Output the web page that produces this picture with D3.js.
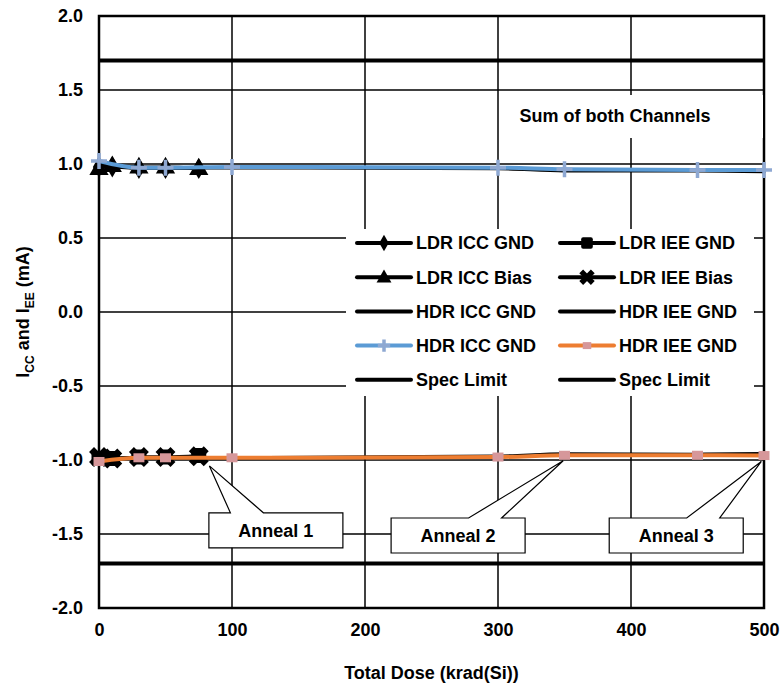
<!DOCTYPE html>
<html><head><meta charset="utf-8">
<script src="https://cdn.jsdelivr.net/npm/d3@7"></script>
<style>
body{margin:0;background:#fff}
text{font-family:"Liberation Sans",Arial,sans-serif;font-weight:bold;fill:#000}
</style>
</head><body>
<svg id="c" width="780" height="688"></svg>
<script>
// ---- data ----
const xTicks = [0, 100, 200, 300, 400, 500];
const yTicks = [2.0, 1.5, 1.0, 0.5, 0.0, -0.5, -1.0, -1.5, -2.0];

const ldrDose    = [0, 10, 30, 50, 75];
const ldrIccGnd  = [0.98, 0.98, 0.97, 0.97, 0.97];
const ldrIccBias = [0.97, 0.99, 0.98, 0.98, 0.97];
const ldrIeeGnd  = [-0.99, -0.99, -0.98, -0.98, -0.97];
const ldrIeeBias = [-0.98, -0.99, -0.98, -0.98, -0.975];

const hdrDose        = [0, 30, 50, 100, 300, 350, 450, 500];
const hdrIccGndBlack = [1.0, 0.975, 0.975, 0.975, 0.97, 0.955, 0.955, 0.95];
const hdrIccGndBlue  = [1.02, 0.975, 0.975, 0.98, 0.975, 0.965, 0.96, 0.96];
const hdrIeeGndBlack = [-1.0, -0.985, -0.985, -0.985, -0.975, -0.96, -0.962, -0.958];
const hdrIeeGndOrange= [-1.01, -0.985, -0.985, -0.985, -0.98, -0.968, -0.968, -0.97];

const specDose = [0, 500];
const specHigh = [1.7, 1.7];
const specLow  = [-1.7, -1.7];

const annLabels  = ["Anneal 1", "Anneal 2", "Anneal 3"];
const annTipDose = [83, 349, 498];
const annTipVal  = [-1.04, -1.005, -1.01];
const annBoxDose = [133, 270, 434];
const annBoxVal  = [-1.475, -1.51, -1.51];

const noteText = "Sum of both Channels";

// ---- layout ----
const svg = d3.select("#c");
const x = d3.scaleLinear().domain([0, 500]).range([99, 764]);
const y = d3.scaleLinear().domain([-2, 2]).range([608, 16]);

const BLUE = "#5B9BD5", BLUE_M = "#8EA8D2", ORANGE = "#ED7D31", PINK = "#D6979A";

// grid
const g = svg.append("g");
g.selectAll(".vg").data(xTicks.slice(1, -1)).join("line")
  .attr("x1", d => x(d)).attr("x2", d => x(d))
  .attr("y1", y(2)).attr("y2", y(-2))
  .attr("stroke", "#000").attr("stroke-width", 1.5);
g.selectAll(".hg").data(yTicks.slice(1, -1)).join("line")
  .attr("x1", x(0)).attr("x2", x(500))
  .attr("y1", d => y(d)).attr("y2", d => y(d))
  .attr("stroke", "#000").attr("stroke-width", 1.5);

// axes
const fmt = d => d.toFixed(1);
const ya = svg.append("g").attr("transform", `translate(${x(0)},0)`)
  .call(d3.axisLeft(y).tickValues(yTicks).tickFormat(fmt).tickSize(0).tickPadding(16));
ya.select(".domain").remove();
ya.selectAll("text").attr("font-size", 18).style("font-family", "Liberation Sans, Arial, sans-serif").style("font-weight", "bold");
const xa = svg.append("g").attr("transform", `translate(0,${y(-2)})`)
  .call(d3.axisBottom(x).tickValues(xTicks).tickFormat(d3.format("d")).tickSize(0).tickPadding(15));
xa.select(".domain").remove();
xa.selectAll("text").attr("font-size", 18).style("font-family", "Liberation Sans, Arial, sans-serif").style("font-weight", "bold");

// frame
svg.append("rect").attr("x", x(0)).attr("y", y(2))
  .attr("width", x(500) - x(0)).attr("height", y(-2) - y(2))
  .attr("fill", "none").attr("stroke", "#000").attr("stroke-width", 2.5);

// spec limits
const line = d3.line().x(d => x(d[0])).y(d => y(d[1]));
const zip = (a, b) => a.map((v, i) => [v, b[i]]);
[specHigh, specLow].forEach(s => {
  svg.append("path").attr("d", line(zip(specDose, s)))
    .attr("fill", "none").attr("stroke", "#000").attr("stroke-width", 4);
});

// symbol helpers
function marker(sel, type, cx, cy, scale) {
  scale = scale || 1;
  const k = Math.sqrt(scale);
  const gg = sel.append("g").attr("transform", `translate(${cx},${cy})`);
  if (type === "diamond") {
    gg.append("path").attr("d", d3.symbol(d3.symbolDiamond, 130 * scale)()).attr("fill", "#000");
  } else if (type === "triangle") {
    gg.append("path").attr("d", d3.symbol(d3.symbolTriangle, 160 * scale)()).attr("fill", "#000").attr("transform", "translate(0,1)");
  } else if (type === "square") {
    gg.append("rect").attr("x", -7.5 * k).attr("y", -7.5 * k)
      .attr("width", 15 * k).attr("height", 15 * k).attr("rx", 2.5 * k).attr("fill", "#000");
  } else if (type === "x") {
    const r = 5 * k;
    gg.append("path").attr("d", `M${-r},${-r}L${r},${r}M${-r},${r}L${r},${-r}`).attr("fill", "none")
      .attr("stroke", "#000").attr("stroke-width", 7 * k).attr("stroke-linecap", "square");
  } else if (type === "plus") {
    const r = 8 * k;
    gg.append("path").attr("d", `M${-r},0H${r}M0,${-r}V${r}`).attr("stroke", BLUE_M).attr("stroke-width", 3.5);
  } else if (type === "pink") {
    const w = 11 * k, h = 9 * k;
    gg.append("rect").attr("x", -w / 2).attr("y", -h / 2).attr("width", w).attr("height", h).attr("fill", PINK);
  }
}

const series = [
  {dose: ldrDose, vals: ldrIccGnd,  color: "#000", w: 3, m: "diamond"},
  {dose: ldrDose, vals: ldrIccBias, color: "#000", w: 3, m: "triangle"},
  {dose: hdrDose, vals: hdrIccGndBlack, color: "#000", w: 3.5, m: null},
  {dose: ldrDose, vals: ldrIeeBias, color: "#000", w: 3, m: "x"},
  {dose: ldrDose, vals: ldrIeeGnd,  color: "#000", w: 3, m: "square"},
  {dose: hdrDose, vals: hdrIeeGndBlack, color: "#000", w: 3.5, m: null},
  {dose: hdrDose, vals: hdrIccGndBlue, color: BLUE, w: 4, m: "plus"},
  {dose: hdrDose, vals: hdrIeeGndOrange, color: ORANGE, w: 4, m: "pink"}
];
const curve = d3.line().x(d => x(d[0])).y(d => y(d[1])).curve(d3.curveMonotoneX);
series.forEach(s => {
  const pts = zip(s.dose, s.vals);
  svg.append("path").attr("d", curve(pts)).attr("fill", "none")
    .attr("stroke", s.color).attr("stroke-width", s.w).attr("stroke-linejoin", "round").attr("stroke-linecap", "round");
  if (s.m) {
    const mg = svg.append("g");
    pts.forEach(p => marker(mg, s.m, x(p[0]), y(p[1])));
  }
});

// legend
const legend = svg.append("g");
legend.append("rect").attr("x", 346).attr("y", 229).attr("width", 408).attr("height", 167).attr("fill", "#fff");
const legItems = [
  [{t: "LDR ICC GND", c: "#000", m: "diamond"}, {t: "LDR IEE GND", c: "#000", m: "square"}],
  [{t: "LDR ICC Bias", c: "#000", m: "triangle"}, {t: "LDR IEE Bias", c: "#000", m: "x"}],
  [{t: "HDR ICC GND", c: "#000", m: null}, {t: "HDR IEE GND", c: "#000", m: null}],
  [{t: "HDR ICC GND", c: BLUE, m: "plus"}, {t: "HDR IEE GND", c: ORANGE, m: "pink"}],
  [{t: "Spec Limit", c: "#000", m: null}, {t: "Spec Limit", c: "#000", m: null}]
];
const colX = [357, 560];
legItems.forEach((row, ri) => {
  const ry = 243 + ri * 34.2;
  row.forEach((it, ci) => {
    const lx = colX[ci];
    legend.append("line").attr("x1", lx).attr("x2", lx + 54).attr("y1", ry).attr("y2", ry)
      .attr("stroke", it.c).attr("stroke-width", 4).attr("stroke-linecap", "round");
    if (it.m) marker(legend, it.m, lx + 27, ry, 0.6);
    legend.append("text").attr("x", lx + 59).attr("y", ry).attr("dy", "0.35em")
      .attr("font-size", 18).text(it.t);
  });
});

// note box
svg.append("rect").attr("x", 499).attr("y", 95).attr("width", 264).attr("height", 43).attr("fill", "#fff");
svg.append("text").attr("x", 615).attr("y", 116).attr("dy", "0.35em").attr("text-anchor", "middle")
  .attr("font-size", 18).text(noteText);

// callouts
const baseOff = [38, 94, 94];
annLabels.forEach((lab, i) => {
  const bw = 134, bh = 35;
  const cx = x(annBoxDose[i]), cy = y(annBoxVal[i]);
  const l = cx - bw / 2, t = cy - bh / 2, r = cx + bw / 2, b = cy + bh / 2;
  const tx = x(annTipDose[i]), ty = y(annTipVal[i]);
  const bc = l + baseOff[i];
  const p = `M${l},${t}L${bc - 16.5},${t}L${tx},${ty}L${bc + 16.5},${t}L${r},${t}L${r},${b}L${l},${b}Z`;
  svg.append("path").attr("d", p).attr("fill", "#fff").attr("stroke", "#000").attr("stroke-width", 1.2);
  svg.append("text").attr("x", cx).attr("y", cy).attr("dy", "0.35em").attr("text-anchor", "middle")
    .attr("font-size", 18).text(lab);
});

// axis titles
svg.append("text").attr("x", x(250)).attr("y", 673).attr("dy", "0.35em").attr("text-anchor", "middle")
  .attr("font-size", 18).text("Total Dose (krad(Si))");
const yt = svg.append("text").attr("transform", `translate(23,${y(0)}) rotate(-90)`)
  .attr("text-anchor", "middle").attr("dy", "0.35em").attr("font-size", 18);
yt.append("tspan").text("I");
yt.append("tspan").attr("font-size", 12).attr("dy", 5).text("CC");
yt.append("tspan").attr("dy", -5).text(" and I");
yt.append("tspan").attr("font-size", 12).attr("dy", 5).text("EE");
yt.append("tspan").attr("dy", -5).text(" (mA)");
</script>
</body></html>
